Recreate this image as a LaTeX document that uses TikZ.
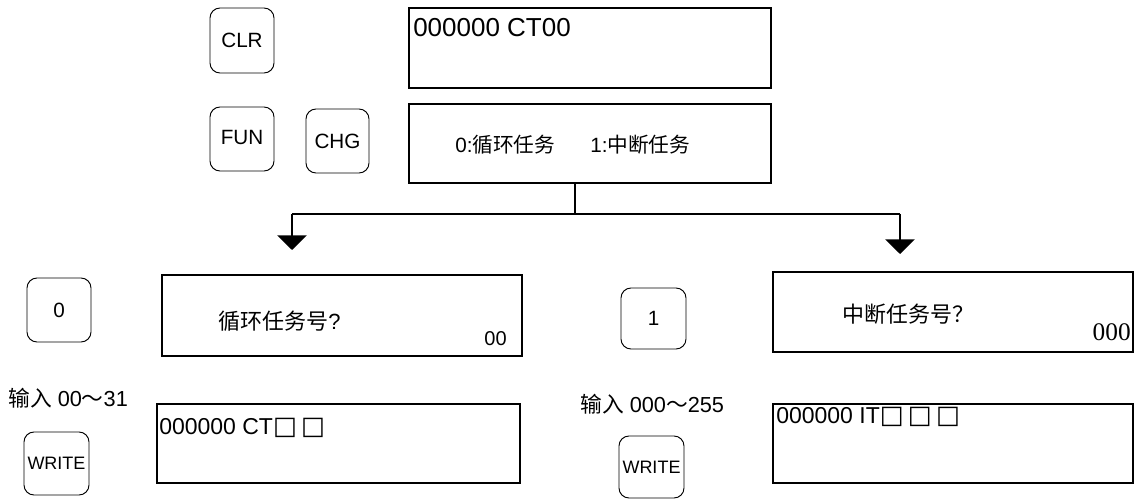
\documentclass[tikz,border=0pt]{standalone}
\usepackage{fontspec}
\setmainfont{Liberation Sans}
\newfontfamily\cjk{Noto Sans CJK SC}
\newfontfamily\sqfont{DejaVu Sans}
\newfontfamily\serifnum{Liberation Serif}
\usetikzlibrary{arrows.meta}
\begin{document}
\begin{tikzpicture}[x=0.75pt,y=-0.75pt,
  keybox/.style={draw,line width=0.7pt,rounded corners=7.5pt,inner sep=0pt,font=\fontsize{15.5}{18}\selectfont},
  dispbox/.style={draw,line width=0.9pt,inner sep=0pt},
  txt/.style={inner sep=0pt},
  conn/.style={line width=0.8pt},
  downarrow/.style={line width=1.3pt,-{Triangle[width=22pt,length=11pt]}}]
\useasboundingbox (0,0) rectangle (1139,499);
% keys
\node[keybox,minimum width=48pt,minimum height=48.75pt] (clr) at (242,40.5) {CLR};
\node[keybox,minimum width=48pt,minimum height=48pt] (fun) at (242,139) {\raisebox{3pt}{FUN}};
\node[keybox,minimum width=47.25pt,minimum height=48pt] (chg) at (337.5,141) {CHG};
\node[keybox,minimum width=48pt,minimum height=48pt] (k0) at (59,310) {0};
\node[keybox,minimum width=48.75pt,minimum height=45.75pt] (k1) at (653.5,318.5) {1};
\node[keybox,minimum width=48.75pt,minimum height=47.25pt,font=\fontsize{13.5}{16}\selectfont] (wl) at (56.5,463.5) {WRITE};
\node[keybox,minimum width=48.75pt,minimum height=46.5pt,font=\fontsize{13.5}{16}\selectfont] (wr) at (651.5,467) {WRITE};
% display boxes
\node[dispbox,minimum width=271.5pt,minimum height=60pt] (top) at (590,48) {};
\node[dispbox,minimum width=271.5pt,minimum height=59.25pt] (mid) at (590,143.5) {};
\node[dispbox,minimum width=270pt,minimum height=60.75pt] (lb) at (342,315.5) {};
\node[dispbox,minimum width=270pt,minimum height=60pt] (rb) at (953,312) {};
\node[dispbox,minimum width=272.25pt,minimum height=59.25pt] (lbb) at (338.5,443.5) {};
\node[dispbox,minimum width=270pt,minimum height=59.25pt] (rbb) at (953,443.5) {};
% texts
\node[txt,anchor=west,font=\fontsize{19.5}{22}\selectfont] (t1) at (413,28) {000000 CT00};
\node[txt,anchor=west,font=\fontsize{15.5}{18}\selectfont] (t2) at (455,145) {0:{\cjk 循环任务}};
\node[txt,anchor=west,font=\fontsize{15.5}{18}\selectfont] (t3) at (590,145) {1:{\cjk 中断任务}};
\node[txt,anchor=west,font=\fontsize{16.5}{19}\selectfont] (t4) at (218,321) {{\cjk 循环任务号}?};
\node[txt,anchor=east,font=\fontsize{15}{18}\selectfont] (t5) at (507,339) {00};
\node[txt,anchor=west,font=\fontsize{16.5}{19}\selectfont] (t6) at (842,314) {\cjk 中断任务号？};
\node[txt,anchor=east,font=\fontsize{19}{22}\selectfont\serifnum] (t7) at (1131,332) {000};
\node[txt,anchor=west,font=\fontsize{16.3}{19}\selectfont] (t8) at (8,398) {{\cjk 输入} 00{\cjk ～}31};
\node[txt,anchor=west,font=\fontsize{16.3}{19}\selectfont] (t9) at (580,404) {{\cjk 输入} 000{\cjk ～}255};
\node[txt,anchor=west,font=\fontsize{17.25}{20}\selectfont] (t10) at (159,428) {000000 CT{\sqfont\fontsize{19}{20}\selectfont □\,□}};
\node[txt,anchor=west,font=\fontsize{17.25}{20}\selectfont] (t11) at (776,417) {000000 IT{\sqfont\fontsize{19}{20}\selectfont □\,□\,□}};
% connectors
\coordinate (jn) at (575,214);
\coordinate (la) at (292,214);
\coordinate (ra) at (900,214);
\coordinate (lt) at (292,250);
\coordinate (rt) at (900,254);
\draw[conn] (jn |- mid.south) -- (jn);
\draw[conn] (la) -- (ra);
\draw[downarrow] (la) -- (lt);
\draw[downarrow] (ra) -- (rt);
\end{tikzpicture}
\end{document}
